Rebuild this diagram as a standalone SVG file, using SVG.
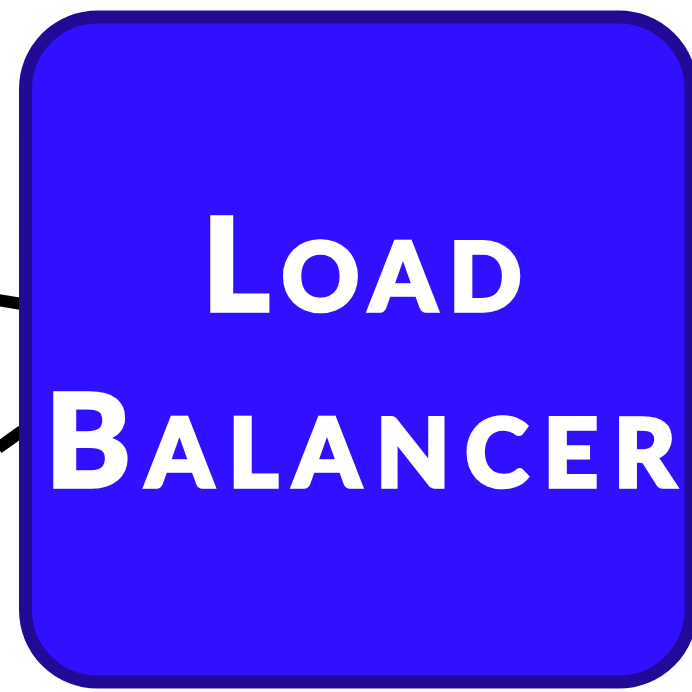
<svg xmlns="http://www.w3.org/2000/svg" width="692" height="692" viewBox="0 0 692 692">
  <style>
    .conn { stroke: #000000; stroke-width: 12; fill: none; }
    .box { fill: #3010ff; stroke: #220a96; stroke-width: 13; }
    .label { fill: #ffffff; stroke: #ffffff; stroke-width: 3.5; stroke-linejoin: miter; font-family: Lato, "Liberation Sans", sans-serif; font-weight: 900; }
    .cap { font-size: 129px; }
    .sc { font-size: 96px; }
  </style>
  <g id="connectors">
    <line class="conn" x1="-2" y1="300" x2="34" y2="306"/>
    <line class="conn" x1="-2" y1="448" x2="22" y2="431"/>
  </g>
  <g id="load-balancer">
    <rect class="box" x="25.5" y="17" width="665.5" height="665" rx="72" ry="72"/>
    <text class="label" text-anchor="middle" x="368" y="311" letter-spacing="12"><tspan class="cap">L</tspan><tspan class="sc">OAD</tspan></text>
    <text class="label" text-anchor="middle" x="368" y="487" letter-spacing="15"><tspan class="cap">B</tspan><tspan class="sc">ALANCER</tspan></text>
  </g>
</svg>
